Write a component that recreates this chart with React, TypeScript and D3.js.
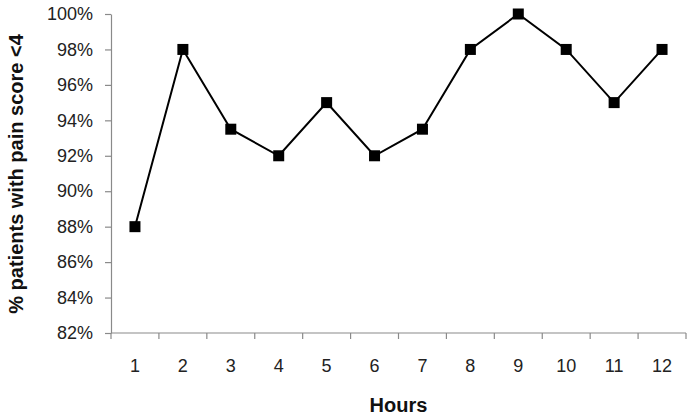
import React, { useEffect, useRef } from 'react';
import * as d3 from 'd3';

const hours = ['1', '2', '3', '4', '5', '6', '7', '8', '9', '10', '11', '12'];
const pctPain = [88, 98, 93.5, 92, 95, 92, 93.5, 98, 100, 98, 95, 98];
const yTicks = [82, 84, 86, 88, 90, 92, 94, 96, 98, 100];

const width = 695;
const height = 419;
const margin = { top: 14, right: 9, bottom: 86, left: 111 };

export default function App() {
  const ref = useRef<SVGSVGElement>(null);

  useEffect(() => {
    const svg = d3.select(ref.current);
    svg.selectAll('*').remove();

    const x = d3.scaleBand().domain(hours).range([margin.left, width - margin.right]);
    const y = d3.scaleLinear().domain([82, 100]).range([height - margin.bottom, margin.top]);
    const font = '"Liberation Sans", Arial, sans-serif';
    const axisColor = '#8a8a8a';

    // y axis
    const yAxis = svg.append('g')
      .attr('transform', `translate(${margin.left},0)`)
      .call(d3.axisLeft(y).tickValues(yTicks).tickSize(6).tickSizeOuter(0).tickFormat(d => d + '%'));
    yAxis.select('.domain').attr('stroke', axisColor).attr('stroke-width', 1.2);
    yAxis.selectAll('.tick line').attr('stroke', axisColor).attr('stroke-width', 1.2);
    yAxis.selectAll('.tick text')
      .attr('x', -18)
      .attr('font-family', font)
      .attr('font-size', 18)
      .attr('fill', '#222');

    // x axis: ticks at band edges
    const bottom = height - margin.bottom;
    const xg = svg.append('g');
    xg.append('line')
      .attr('x1', margin.left).attr('x2', width - margin.right)
      .attr('y1', bottom).attr('y2', bottom)
      .attr('stroke', axisColor).attr('stroke-width', 1.2);
    const edges = hours.map(h => x(h)!).concat([x(hours[hours.length - 1])! + x.bandwidth()]);
    xg.selectAll('line.tk').data(edges).join('line')
      .attr('class', 'tk')
      .attr('x1', d => d).attr('x2', d => d)
      .attr('y1', bottom).attr('y2', bottom + 6)
      .attr('stroke', axisColor).attr('stroke-width', 1.2);
    xg.selectAll('text').data(hours).join('text')
      .attr('x', d => x(d)! + x.bandwidth() / 2)
      .attr('y', bottom + 39)
      .attr('text-anchor', 'middle')
      .attr('font-family', font)
      .attr('font-size', 18)
      .attr('fill', '#222')
      .text(d => d);

    // line
    const line = d3.line<number>()
      .x((_, i) => x(hours[i])! + x.bandwidth() / 2)
      .y(d => y(d));
    svg.append('path')
      .datum(pctPain)
      .attr('d', line)
      .attr('fill', 'none')
      .attr('stroke', '#000')
      .attr('stroke-width', 2);

    const s = 11;
    svg.selectAll('rect.pt').data(pctPain).join('rect')
      .attr('class', 'pt')
      .attr('x', (_, i) => x(hours[i])! + x.bandwidth() / 2 - s / 2)
      .attr('y', d => y(d) - s / 2)
      .attr('width', s)
      .attr('height', s)
      .attr('fill', '#000');

    // labels
    svg.append('text')
      .attr('x', (margin.left + width - margin.right) / 2)
      .attr('y', 412)
      .attr('text-anchor', 'middle')
      .attr('font-family', font)
      .attr('font-weight', 'bold')
      .attr('font-size', 20)
      .attr('fill', '#111')
      .text('Hours');

    svg.append('text')
      .attr('transform', `translate(23,174) rotate(-90)`)
      .attr('text-anchor', 'middle')
      .attr('font-family', font)
      .attr('font-weight', 'bold')
      .attr('font-size', 20)
      .attr('fill', '#111')
      .text('% patients with pain score <4');
  }, []);

  return (
    <svg ref={ref} width={width} height={height}
      style={{ position: 'absolute', left: 0, top: 0, background: '#fff' }} />
  );
}
